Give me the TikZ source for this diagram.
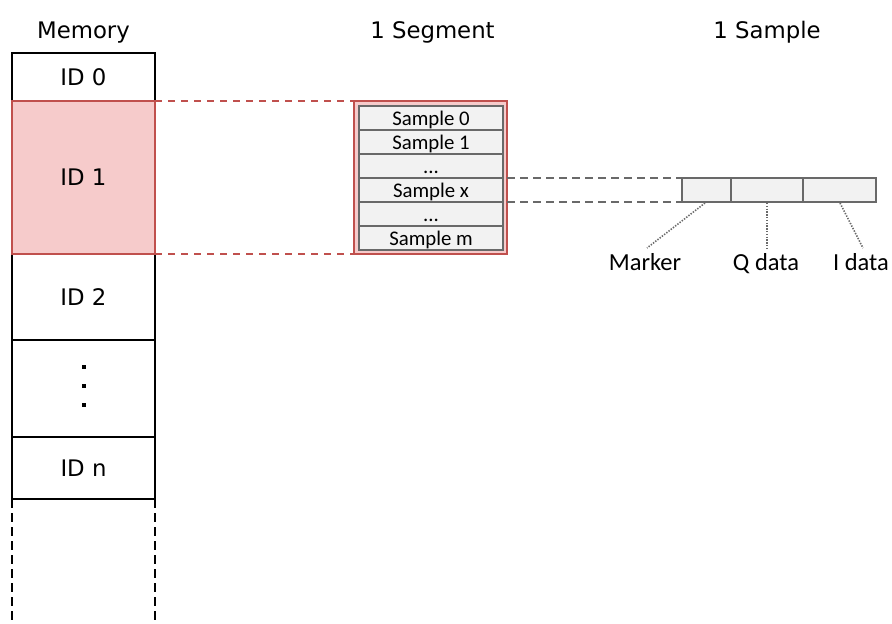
\documentclass[tikz,border=0pt]{standalone}
\usepackage{fontspec}
\setmainfont{DejaVu Sans}
\newfontfamily\calfont{Carlito}
\usetikzlibrary{calc}
\definecolor{redl}{RGB}{192,80,77}
\definecolor{pinkf}{RGB}{246,203,203}
\definecolor{grayl}{RGB}{105,105,105}
\definecolor{grayf}{RGB}{242,242,242}
\begin{document}
\begin{tikzpicture}[x=1pt,y=-1pt,
  memcell/.style={draw=black, line width=2pt, inner sep=0pt, outer sep=0pt, anchor=north west,
    minimum width=143pt, font=\fontsize{22.8}{26}\selectfont},
  redcell/.style={memcell, draw=redl, fill=pinkf},
  title/.style={anchor=base, inner sep=0pt, font=\fontsize{22.8}{26}\selectfont},
  segbox/.style={draw=redl, fill=pinkf, line width=2pt, inner sep=0pt, outer sep=0pt, anchor=north west,
    minimum width=153.5pt, minimum height=153pt},
  rowcell/.style={draw=grayl, fill=grayf, line width=2pt, inner sep=0pt, outer sep=0pt, anchor=north west,
    minimum width=144pt, minimum height=24pt, text height=15pt, text depth=0pt,
    font=\calfont\fontsize{20.8}{22}\selectfont},
  scell/.style={draw=grayl, fill=grayf, line width=2pt, inner sep=0pt, outer sep=0pt, anchor=north west,
    minimum height=24pt},
  lab/.style={anchor=base, inner sep=0pt, font=\calfont\fontsize{24.5}{28}\selectfont},
  reddash/.style={draw=redl, line width=2pt, dash pattern=on 7pt off 6pt},
  graydash/.style={draw=grayl, line width=2pt, dash pattern=on 8pt off 5pt},
  blackdash/.style={draw=black, line width=2pt, dash pattern=on 9pt off 5pt},
  leader/.style={draw=grayl, line width=1.6pt, dash pattern=on 1.4pt off 1.4pt}
]
\useasboundingbox (0,0) rectangle (892,624);

% titles
\node[title] (tmem) at (83.5,38) {Memory};
\node[title] (tseg) at (432.5,38) {1 Segment};
\node[title] (tsam) at (767,38) {1 Sample};

% memory column
\node[memcell, minimum height=48pt] (id0) at (12,53) {ID 0};
\node[memcell, minimum height=86pt] (id2) at (12,254) {ID 2};
\node[memcell, minimum height=97pt] (iddots) at (12,340) {};
\node[memcell, minimum height=62pt] (idn) at (12,437) {ID n};
\node[redcell, minimum height=153pt] (id1) at (12,101) {ID 1};
\foreach \d in {-21.5,-2.5,16.5}
  \fill[black] ($(iddots.center)+(-2,\d-2)$) rectangle ++(4,4);
\coordinate (bl) at (12,624);
\coordinate (br) at (155,624);
\draw[blackdash] (idn.south west) -- (bl);
\draw[blackdash] (idn.south east) -- (br);

% segment
\node[segbox] (seg) at (353.5,101) {};
\node[rowcell] (r0) at (359,106) {Sample 0};
\node[rowcell] (r1) at (359,130) {Sample 1};
\node[rowcell] (r2) at (359,154) {...};
\node[rowcell] (r3) at (359,178) {Sample x};
\node[rowcell] (r4) at (359,202) {...};
\node[rowcell] (r5) at (359,226) {Sample m};

\draw[reddash] (id1.north east) -- (seg.north west);
\draw[reddash] (id1.south east) -- (seg.south west);

% sample
\node[scell, minimum width=49pt] (c1) at (682,178) {};
\node[scell, minimum width=72pt] (c2) at (731,178) {};
\node[scell, minimum width=73pt] (c3) at (803,178) {};

\draw[graydash] (seg.east |- r3.north) -- (c1.north west);
\draw[graydash] (seg.east |- r3.south) -- (c1.south west);

% labels
\node[lab] (lm) at (645,270) {Marker};
\node[lab] (lq) at (766,270) {Q data};
\node[lab] (li) at (861,270) {I data};
\coordinate (m1) at (705,203);
\coordinate (m2) at (647,248);
\coordinate (q1) at (767,203);
\coordinate (q2) at (767,248);
\coordinate (i1) at (840,203);
\coordinate (i2) at (863,248);
\draw[leader] (m1) -- (m2);
\draw[leader] (q1) -- (q2);
\draw[leader] (i1) -- (i2);
\end{tikzpicture}
\end{document}
